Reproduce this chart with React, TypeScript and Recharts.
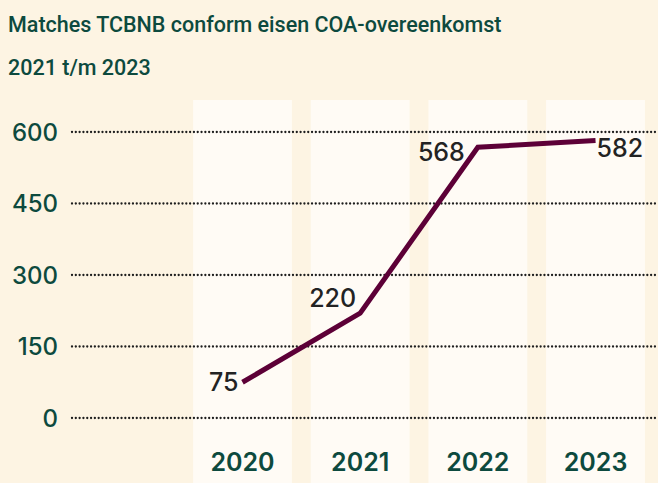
import React from "react";
import {
  ComposedChart,
  Line,
  XAxis,
  YAxis,
  ReferenceArea,
  ReferenceLine,
  LabelList,
} from "recharts";

const years = ["2020", "2021", "2022", "2023"];
const matches = [75, 220, 568, 582];
const yTicks = [0, 150, 300, 450, 600];
const title1 = "Matches TCBNB conform eisen COA-overeenkomst";
const title2 = "2021 t/m 2023";

const GREEN = "#0d4a3e";
const MAROON = "#5d0037";
const BG = "#fdf4e3";
const COL = "#fffbf5";
const FONT = "Inter, 'Noto Sans', sans-serif";

const data = years.map((y, i) => ({ x: i, year: y, value: matches[i] }));

// label placement relative to the point: [dx, dy, anchor]
const labelPlace: [number, number, "start" | "end"][] = [
  [-4, 0, "end"],
  [-4, -15, "end"],
  [-13, 5, "end"],
  [1, 7, "start"],
];

const renderLabel = (props: any) => {
  const { x, y, index, value } = props;
  const [dx, dy, anchor] = labelPlace[index] || [0, 0, "middle"];
  return (
    <text
      x={x + dx}
      y={y + dy}
      textAnchor={anchor}
      dominantBaseline="central"
      fill="#232323"
      fontSize={25}
      fontWeight={500}
      fontFamily={FONT}
    >
      {value}
    </text>
  );
};

const XTick = (props: any) => {
  const { x, y, payload } = props;
  return (
    <text
      x={x}
      y={y + 44}
      textAnchor="middle"
      dominantBaseline="central"
      fill={GREEN}
      fontSize={25}
      fontWeight={600}
      fontFamily={FONT}
    >
      {years[payload.value]}
    </text>
  );
};

const YTick = (props: any) => {
  const { x, y, payload } = props;
  return (
    <text
      x={x}
      y={y}
      textAnchor="end"
      dominantBaseline="central"
      fill={GREEN}
      fontSize={24}
      fontWeight={500}
      fontFamily={FONT}
    >
      {payload.value}
    </text>
  );
};

export default function App() {
  return (
    <div
      style={{
        position: "absolute",
        left: 0,
        top: 0,
        width: 658,
        height: 483,
        background: BG,
        overflow: "hidden",
        fontFamily: FONT,
      }}
    >
      <div
        style={{
          position: "absolute",
          left: 8,
          top: 3,
          color: GREEN,
          fontFamily: "Roboto, sans-serif",
          fontSize: 21.5,
          fontWeight: 500,
          lineHeight: "43px",
          whiteSpace: "nowrap",
        }}
      >
        <div>{title1}</div>
        <div>{title2}</div>
      </div>
      <div style={{ position: "absolute", left: 0, top: 0 }}>
        <ComposedChart
          width={658}
          height={483}
          data={data}
          margin={{ top: 132, right: 0, bottom: 0, left: 0 }}
        >
          <XAxis
            dataKey="x"
            type="number"
            domain={[-1.449, 3.531]}
            allowDataOverflow
            ticks={[0, 1, 2, 3]}
            tick={<XTick />}
            tickLine={false}
            axisLine={false}
            tickSize={0}
            tickMargin={0}
            height={65}
          />
          <YAxis
            type="number"
            domain={[0, 600]}
            ticks={yTicks}
            tick={<YTick />}
            tickLine={false}
            axisLine={false}
            tickSize={0}
            tickMargin={14}
            width={72}
          />
          {years.map((_, i) => (
            <ReferenceArea
              key={"col" + i}
              x1={i - 0.42}
              x2={i + 0.42}
              y1={-140}
              y2={667}
              ifOverflow="visible"
              fill={COL}
              fillOpacity={1}
              stroke="none"
            />
          ))}
          {yTicks.map((t) => (
            <ReferenceLine
              key={"g" + t}
              y={t}
              stroke="#1e1e1e"
              strokeWidth={2.3}
              strokeLinecap="round"
              strokeDasharray="0.01 3.8"
            />
          ))}
          <Line
            type="linear"
            dataKey="value"
            stroke={MAROON}
            strokeWidth={5}
            dot={false}
            activeDot={false}
            isAnimationActive={false}
          >
            <LabelList dataKey="value" content={renderLabel} />
          </Line>
        </ComposedChart>
      </div>
    </div>
  );
}
